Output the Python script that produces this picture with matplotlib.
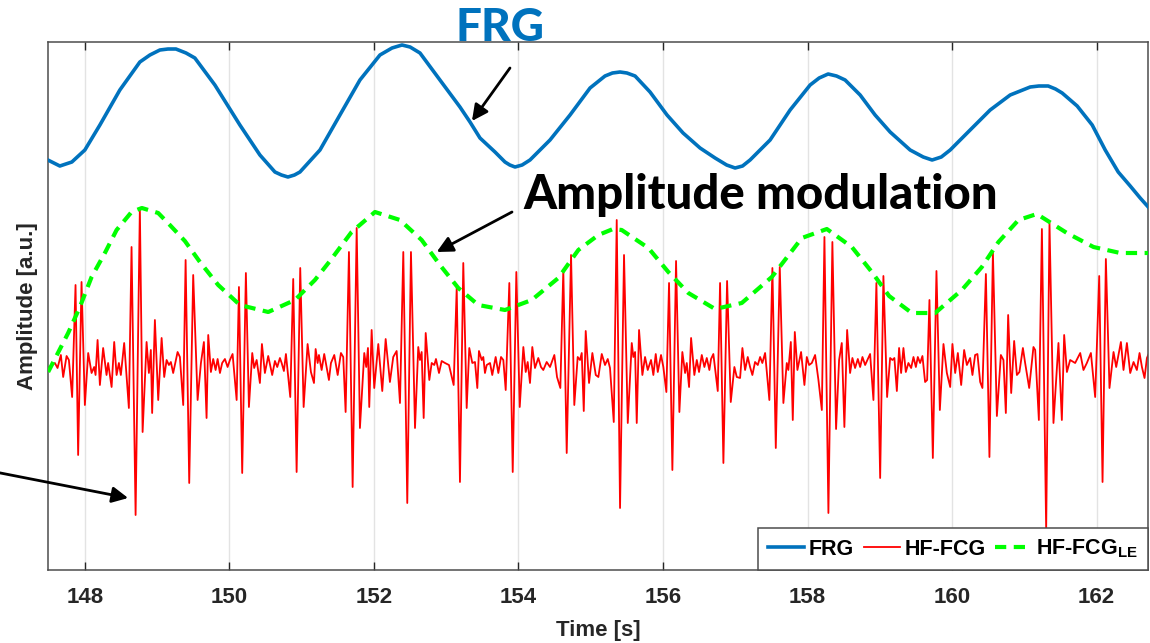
import matplotlib
matplotlib.use('Agg')
import matplotlib.pyplot as plt
import numpy as np

plt.rcParams['font.family'] = ['Liberation Sans', 'DejaVu Sans']
plt.rcParams['mathtext.fontset'] = 'custom'
plt.rcParams['mathtext.rm'] = 'Liberation Sans'
plt.rcParams['mathtext.bf'] = 'Liberation Sans:bold'

BLUE = '#0072BD'
RED = '#FF0000'
GREEN = '#00FF00'
DARK = '#262626'

# ---- data (time [s], amplitude [a.u.]) ----
frg_t = [147.488, 147.654, 147.820, 148.000, 148.208, 148.484, 148.761, 148.900,
         149.038, 149.150, 149.260, 149.400, 149.522, 149.799, 150.145, 150.422,
         150.630, 150.720, 150.810, 150.900, 150.976, 151.253, 151.529, 151.806,
         152.083, 152.250, 152.388, 152.500, 152.637, 152.913, 153.190, 153.329,
         153.467, 153.675, 153.813, 153.880, 153.952, 154.050, 154.159, 154.436,
         154.713, 154.990, 155.197, 155.300, 155.405, 155.500, 155.613, 155.820,
         156.055, 156.277, 156.512, 156.720, 156.880, 156.997, 157.100, 157.204,
         157.481, 157.758, 158.035, 158.160, 158.284, 158.400, 158.519, 158.727,
         158.934, 159.142, 159.419, 159.600, 159.723, 159.850, 159.973, 160.249,
         160.526, 160.803, 161.080, 161.200, 161.329, 161.430, 161.522, 161.730,
         161.938, 162.118, 162.298, 162.464, 162.602, 162.713]
frg_a = [2.03, 1.97, 2.01, 2.13, 2.38, 2.73, 3.01, 3.08,
         3.13, 3.14, 3.14, 3.10, 3.05, 2.78, 2.38, 2.08,
         1.91, 1.88, 1.86, 1.88, 1.91, 2.13, 2.48, 2.83,
         3.08, 3.15, 3.18, 3.16, 3.10, 2.83, 2.56, 2.41,
         2.25, 2.11, 2.01, 1.98, 1.96, 1.98, 2.03, 2.23,
         2.48, 2.75, 2.87, 2.90, 2.91, 2.90, 2.87, 2.71,
         2.48, 2.30, 2.15, 2.05, 1.98, 1.95, 1.97, 2.03,
         2.23, 2.53, 2.78, 2.85, 2.89, 2.87, 2.83, 2.68,
         2.48, 2.31, 2.13, 2.06, 2.03, 2.06, 2.13, 2.33,
         2.53, 2.68, 2.76, 2.77, 2.77, 2.74, 2.70, 2.57,
         2.38, 2.13, 1.91, 1.77, 1.65, 1.56]

le_t = [147.492, 147.769, 147.931, 148.093, 148.277, 148.439, 148.646, 148.789,
        149.015, 149.176, 149.384, 149.592, 149.845, 150.145, 150.537, 150.907,
        151.183, 151.391, 151.691, 152.014, 152.360, 152.660, 152.913, 153.167,
        153.444, 153.813, 154.183, 154.551, 154.828, 155.105, 155.308, 155.428,
        155.797, 156.073, 156.350, 156.720, 157.089, 157.505, 157.920, 158.266,
        158.612, 158.889, 159.128, 159.442, 159.765, 160.134, 160.411, 160.641,
        160.918, 161.172, 161.588, 161.956, 162.325, 162.717]
le_a = [-0.09, 0.30, 0.56, 0.86, 1.10, 1.33, 1.51, 1.55,
        1.50, 1.38, 1.22, 1.01, 0.78, 0.58, 0.51, 0.63,
        0.83, 1.02, 1.31, 1.51, 1.43, 1.23, 0.98, 0.75,
        0.58, 0.53, 0.63, 0.85, 1.13, 1.28, 1.34, 1.33,
        1.15, 0.91, 0.70, 0.54, 0.60, 0.86, 1.25, 1.34,
        1.16, 0.91, 0.67, 0.50, 0.50, 0.73, 0.96, 1.21,
        1.43, 1.49, 1.30, 1.16, 1.10, 1.10]

hf_seg1 = [(147.49, -0.05), (147.585, 0.00), (147.622, -0.05), (147.668, 0.08),
           (147.700, -0.14), (147.747, 0.07), (147.779, 0.03), (147.824, -0.34),
           (147.871, 0.78), (147.907, -0.92), (147.954, 0.81), (148.000, -0.42),
           (148.046, 0.10), (148.093, -0.10), (148.129, -0.04), (148.148, -0.12),
           (148.176, 0.23), (148.208, -0.22), (148.253, 0.15), (148.300, -0.12),
           (148.322, 0.00), (148.370, -0.24), (148.406, 0.21), (148.439, -0.12),
           (148.471, 0.00), (148.498, -0.12), (148.544, 0.20), (148.609, -0.45),
           (148.646, 1.16), (148.702, -1.52), (148.761, 1.55), (148.799, -0.69),
           (148.854, 0.21), (148.886, -0.10), (148.913, 0.13), (148.931, -0.50),
           (148.969, 0.43), (149.015, -0.37), (149.062, 0.25), (149.098, -0.14),
           (149.131, 0.03), (149.163, -0.02), (149.190, 0.01), (149.222, -0.10),
           (149.283, 0.11), (149.315, 0.06), (149.361, -0.42), (149.394, 1.03),
           (149.444, -1.20)]
hf_seg2 = [(149.499, 0.88), (149.560, -0.37), (149.606, 0.00), (149.647, 0.21),
           (149.684, -0.55), (149.707, 0.28), (149.744, -0.09), (149.776, 0.04),
           (149.809, -0.07), (149.837, 0.04), (149.869, -0.10), (149.900, 0.00),
           (149.938, 0.04), (149.975, -0.04), (150.007, 0.03), (150.044, 0.09),
           (150.100, -0.37), (150.132, 0.76), (150.177, -1.10), (150.228, 0.90),
           (150.270, -0.44), (150.316, 0.10), (150.343, -0.05), (150.377, 0.03),
           (150.422, -0.20), (150.450, 0.19), (150.491, -0.10), (150.537, 0.07),
           (150.592, -0.12), (150.630, 0.02), (150.662, -0.04), (150.699, 0.05),
           (150.723, 0.00), (150.754, -0.08), (150.782, 0.09), (150.842, -0.34),
           (150.883, 0.84), (150.930, -1.09), (150.980, 0.95), (151.027, -0.44),
           (151.082, 0.19), (151.128, -0.09), (151.170, -0.20), (151.193, 0.14),
           (151.221, 0.00), (151.239, 0.08), (151.276, -0.07), (151.312, 0.09),
           (151.377, -0.17)]
hf_seg3 = [(151.405, 0.00), (151.451, 0.08), (151.498, -0.12), (151.543, 0.10),
           (151.575, 0.06), (151.608, -0.49), (151.654, 1.11), (151.705, -1.24),
           (151.761, 1.35), (151.806, -0.65), (151.866, 0.10), (151.893, -0.04),
           (151.917, 0.15), (151.935, -0.44), (151.968, 0.33), (152.004, -0.25),
           (152.060, 0.19), (152.115, -0.28), (152.162, 0.24), (152.221, -0.19),
           (152.267, 0.06), (152.314, 0.12), (152.360, -0.40), (152.406, 1.11),
           (152.461, -1.40), (152.512, 1.11), (152.568, -0.65), (152.613, 0.16),
           (152.637, 0.03), (152.660, 0.11), (152.688, -0.55), (152.716, 0.30),
           (152.766, -0.17), (152.799, 0.00), (152.835, -0.02), (152.858, 0.04),
           (152.900, -0.10), (152.937, 0.02), (152.983, 0.00), (153.038, -0.02),
           (153.103, -0.22), (153.145, 0.75), (153.190, -1.19), (153.236, 1.00),
           (153.283, -0.45), (153.319, 0.15)]
hf_seg4 = [(153.361, 0.00), (153.398, 0.01), (153.430, -0.25), (153.453, 0.12),
           (153.491, 0.03), (153.513, 0.06), (153.536, -0.10), (153.560, -0.02),
           (153.606, 0.00), (153.637, -0.12), (153.684, 0.06), (153.721, -0.10),
           (153.758, 0.06), (153.790, 0.03), (153.823, -0.27), (153.873, 0.80),
           (153.920, -1.09), (153.970, 0.91), (154.017, -0.44), (154.067, 0.16),
           (154.100, -0.09), (154.127, 0.01), (154.159, -0.20), (154.191, 0.16),
           (154.228, -0.05), (154.274, 0.05), (154.311, -0.04), (154.343, -0.07),
           (154.390, 0.01), (154.436, -0.04), (154.496, 0.08), (154.533, -0.14),
           (154.579, -0.25), (154.620, 0.93), (154.667, -0.90), (154.727, 1.08),
           (154.772, -0.42), (154.819, 0.06), (154.851, 0.03), (154.875, 0.10),
           (154.903, -0.48), (154.930, 0.32), (154.976, -0.20), (155.022, 0.10),
           (155.069, -0.12), (155.105, -0.14), (155.152, 0.09), (155.197, -0.02)]
hf_seg5 = [(155.235, 0.04), (155.266, -0.05), (155.318, -0.59), (155.359, 1.43),
           (155.405, -1.45), (155.460, 1.08), (155.512, -0.60), (155.567, 0.20),
           (155.589, 0.06), (155.613, 0.11), (155.636, -0.60), (155.668, 0.33),
           (155.714, -0.12), (155.751, 0.06), (155.788, -0.07), (155.834, 0.03),
           (155.866, -0.12), (155.899, 0.09), (155.927, -0.09), (155.972, 0.08),
           (156.004, -0.04), (156.046, -0.29), (156.083, 0.80), (156.129, -1.07),
           (156.180, 1.02), (156.226, -0.49), (156.267, 0.11), (156.305, -0.10),
           (156.328, 0.00), (156.360, -0.24), (156.388, 0.25), (156.433, -0.12),
           (156.467, 0.03), (156.498, -0.09), (156.536, 0.08), (156.572, -0.04),
           (156.605, 0.05), (156.641, -0.07), (156.664, 0.04), (156.696, 0.09),
           (156.757, -0.28), (156.789, 0.80), (156.835, -1.00), (156.886, 0.82),
           (156.937, -0.39), (156.987, -0.04), (157.020, -0.14), (157.066, -0.15),
           (157.098, 0.15), (157.135, -0.07), (157.172, 0.06)]
hf_seg6 = [(157.204, -0.04), (157.236, -0.12), (157.273, 0.01), (157.311, -0.02),
           (157.343, 0.06), (157.374, 0.00), (157.412, 0.10), (157.471, -0.37),
           (157.513, 0.95), (157.560, -0.85), (157.615, 0.96), (157.665, -0.40),
           (157.712, 0.00), (157.734, -0.07), (157.768, 0.21), (157.795, -0.57),
           (157.823, 0.31), (157.859, -0.07), (157.910, 0.11), (157.956, -0.22),
           (157.989, 0.06), (158.021, -0.02), (158.058, 0.00), (158.104, 0.08),
           (158.150, -0.17), (158.197, -0.47), (158.233, 1.26), (158.288, -1.50),
           (158.343, 1.21), (158.394, -0.66), (158.436, 0.03), (158.473, 0.20),
           (158.509, -0.64), (158.547, 0.33), (158.588, -0.10), (158.620, 0.05),
           (158.657, -0.05), (158.695, 0.04), (158.727, -0.04), (158.759, 0.06),
           (158.796, -0.02), (158.833, 0.04), (158.865, 0.09), (158.911, -0.37),
           (158.952, 0.80), (159.004, -1.15), (159.049, 0.87), (159.100, -0.34)]
hf_seg7 = [(159.142, 0.05), (159.174, 0.03), (159.201, 0.05), (159.235, -0.28),
           (159.266, 0.15), (159.294, -0.10), (159.326, 0.15), (159.359, -0.09),
           (159.395, 0.00), (159.433, -0.05), (159.465, 0.06), (159.498, -0.04),
           (159.525, 0.06), (159.557, 0.00), (159.589, 0.07), (159.626, -0.19),
           (159.654, -0.17), (159.686, 0.63), (159.733, -0.95), (159.783, 0.92),
           (159.830, -0.47), (159.880, 0.19), (159.927, -0.10), (159.973, -0.24),
           (160.004, 0.19), (160.042, -0.10), (160.079, 0.10), (160.125, -0.22),
           (160.166, 0.13), (160.204, -0.02), (160.249, 0.05), (160.281, -0.12),
           (160.318, 0.08), (160.350, 0.09), (160.388, -0.19), (160.419, -0.25),
           (160.467, 0.89), (160.516, -0.94), (160.564, 1.11), (160.619, -0.53),
           (160.674, 0.08), (160.710, 0.03), (160.743, -0.50), (160.775, 0.48),
           (160.817, -0.30), (160.858, 0.22), (160.896, -0.12), (160.931, -0.09),
           (160.979, 0.15), (161.010, 0.00), (161.066, -0.25)]
hf_seg8 = [(161.125, 0.16), (161.149, 0.13), (161.200, -0.57), (161.242, 1.34),
           (161.301, -1.67), (161.347, 1.40), (161.402, -0.60), (161.471, 0.20),
           (161.518, -0.57), (161.550, 0.28), (161.588, -0.09), (161.633, 0.03),
           (161.702, 0.00), (161.772, 0.10), (161.817, -0.07), (161.864, 0.00),
           (161.920, 0.10), (161.979, -0.34), (162.035, 0.87), (162.081, -1.19),
           (162.127, 1.04), (162.177, -0.25), (162.233, 0.11), (162.270, -0.04),
           (162.335, 0.21), (162.371, -0.07), (162.418, 0.20), (162.464, -0.10),
           (162.510, 0.01), (162.556, -0.07), (162.593, 0.10), (162.626, -0.04),
           (162.662, -0.15), (162.695, 0.05), (162.731, 0.11)]

hf = np.array(hf_seg1 + hf_seg2 + hf_seg3 + hf_seg4 +
              hf_seg5 + hf_seg6 + hf_seg7 + hf_seg8)
x_ticks = [148, 150, 152, 154, 156, 158, 160, 162]

# ---- figure ----
fig = plt.figure(figsize=(11.5, 6.43), dpi=100, facecolor='white')
ax = fig.add_axes([48 / 1150, 1 - 570 / 643, 1100 / 1150, 528 / 643])

ax.plot(frg_t, frg_a, color=BLUE, lw=2.6, label='FRG', zorder=3,
        solid_joinstyle='round')
ax.plot(hf[:, 0], hf[:, 1], color=RED, lw=1.3, label='HF-FCG', zorder=2)
ax.plot(le_t, le_a, color=GREEN, lw=3.0, dashes=(2.7, 1.8),
        label=r'HF-FCG$_{\mathbf{LE}}$', zorder=4)

ax.set_xlim(147.49, 162.71)
ax.set_ylim(-2.07, 3.21)
ax.set_xticks(x_ticks)
ax.set_yticks([])
ax.grid(axis='x', color='#e3e3e3', lw=1.0, zorder=0)
ax.tick_params(axis='x', direction='in', length=6, width=1, top=True,
               colors=DARK, labelsize=16, pad=12)
for lab in ax.get_xticklabels():
    lab.set_fontweight('bold')
for s in ax.spines.values():
    s.set_color('#4d4d4d')
    s.set_linewidth(1.1)

ax.set_xlabel('Time [s]', fontsize=16, fontweight='bold', color=DARK, labelpad=9)
ax.set_ylabel('Amplitude [a.u.]', fontsize=16, fontweight='bold', color=DARK, labelpad=7)

leg = ax.legend(loc='lower right', bbox_to_anchor=(1.0, 0.0), ncol=3,
                borderaxespad=0, frameon=True, fancybox=False, framealpha=1,
                edgecolor='#4d4d4d', handlelength=1.7, handletextpad=0.2,
                columnspacing=0.45, borderpad=0.45,
                prop={'family': 'Liberation Sans', 'weight': 'bold', 'size': 15.5})
leg.get_frame().set_linewidth(1.1)
leg.set_zorder(10)

# ---- annotations ----
arrow = dict(arrowstyle='-|>', color='black', lw=2, mutation_scale=24,
             shrinkA=0, shrinkB=0)
ax.text(153.744, 3.35, 'FRG', color=BLUE, fontsize=33, fontweight='black',
        family=['Lato', 'DejaVu Sans'], ha='center', va='center', zorder=12)
ax.annotate('', xy=(153.356, 2.42), xytext=(153.882, 2.95), arrowprops=arrow,
            zorder=11)
ax.text(157.356, 1.68, 'Amplitude modulation', color='black', fontsize=34,
        fontweight='black', family=['Lato', 'DejaVu Sans'],
        ha='center', va='center', zorder=12)
ax.annotate('', xy=(152.868, 1.11), xytext=(153.910, 1.51), arrowprops=arrow,
            zorder=11)
ax.annotate('', xy=(148.599, -1.35), xytext=(-20, 174),
            textcoords='figure pixels', arrowprops=arrow,
            annotation_clip=False, zorder=11)

fig.savefig('out.png', dpi=100, facecolor='white')
